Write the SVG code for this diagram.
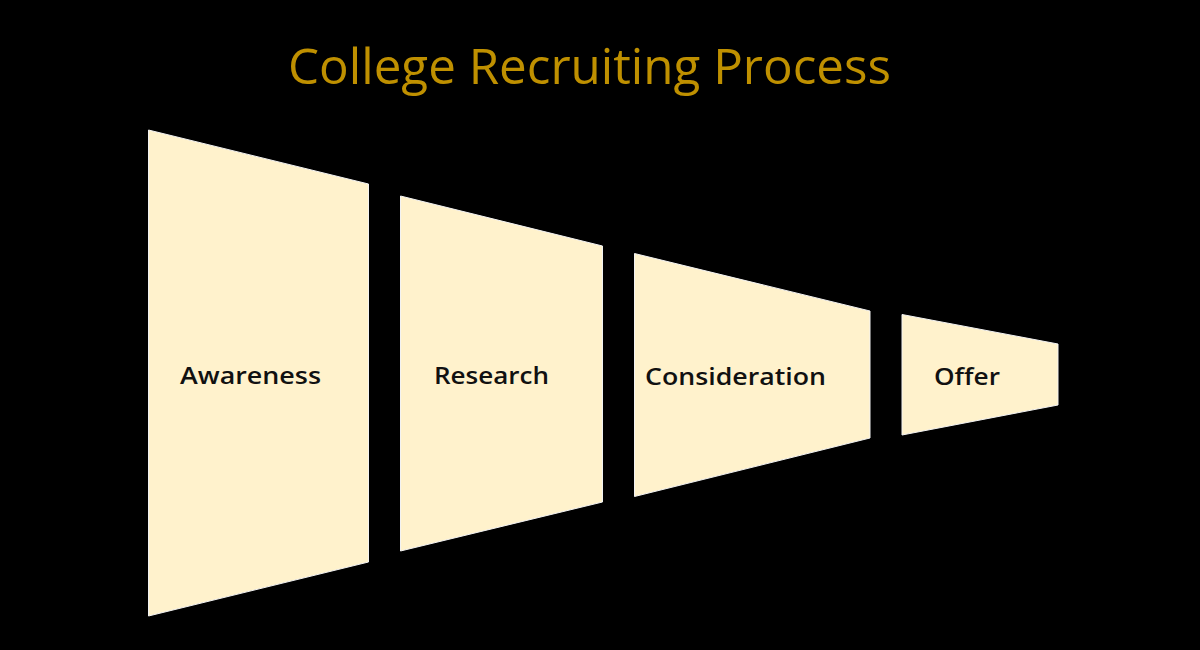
<svg xmlns="http://www.w3.org/2000/svg" width="1200" height="650" viewBox="0 0 1200 650">
<style>
.stage{fill:#FFF2CC;stroke:#F2F2F2;stroke-width:1}
.lbl{font-family:"Open Sans","Liberation Sans",sans-serif;font-weight:600;font-size:23px;fill:#111111}
.title{font-family:"Open Sans","Liberation Sans",sans-serif;font-size:50px;fill:#BF9000}
</style>
<rect width="1200" height="650" fill="#000000"/>
<text class="title" x="288" y="84" textLength="603" lengthAdjust="spacingAndGlyphs">College Recruiting Process</text>
<g id="awareness">
<polygon class="stage" points="148.5,130 368.5,184 368.5,562 148.5,616"/>
<text class="lbl" x="180" y="384" textLength="141" lengthAdjust="spacingAndGlyphs">Awareness</text>
</g>
<g id="research">
<polygon class="stage" points="400.5,196 602.5,246 602.5,502 400.5,551"/>
<text class="lbl" x="434" y="384" textLength="115" lengthAdjust="spacingAndGlyphs">Research</text>
</g>
<g id="consideration">
<polygon class="stage" points="634.5,253.5 870,311 870,438 634.5,496.5"/>
<text class="lbl" x="645" y="385" textLength="181" lengthAdjust="spacingAndGlyphs">Consideration</text>
</g>
<g id="offer">
<polygon class="stage" points="902,314.5 1058,344 1058,405 902,435"/>
<text class="lbl" x="934" y="385" textLength="66" lengthAdjust="spacingAndGlyphs">Offer</text>
</g>
<g id="connectors"/>
</svg>
